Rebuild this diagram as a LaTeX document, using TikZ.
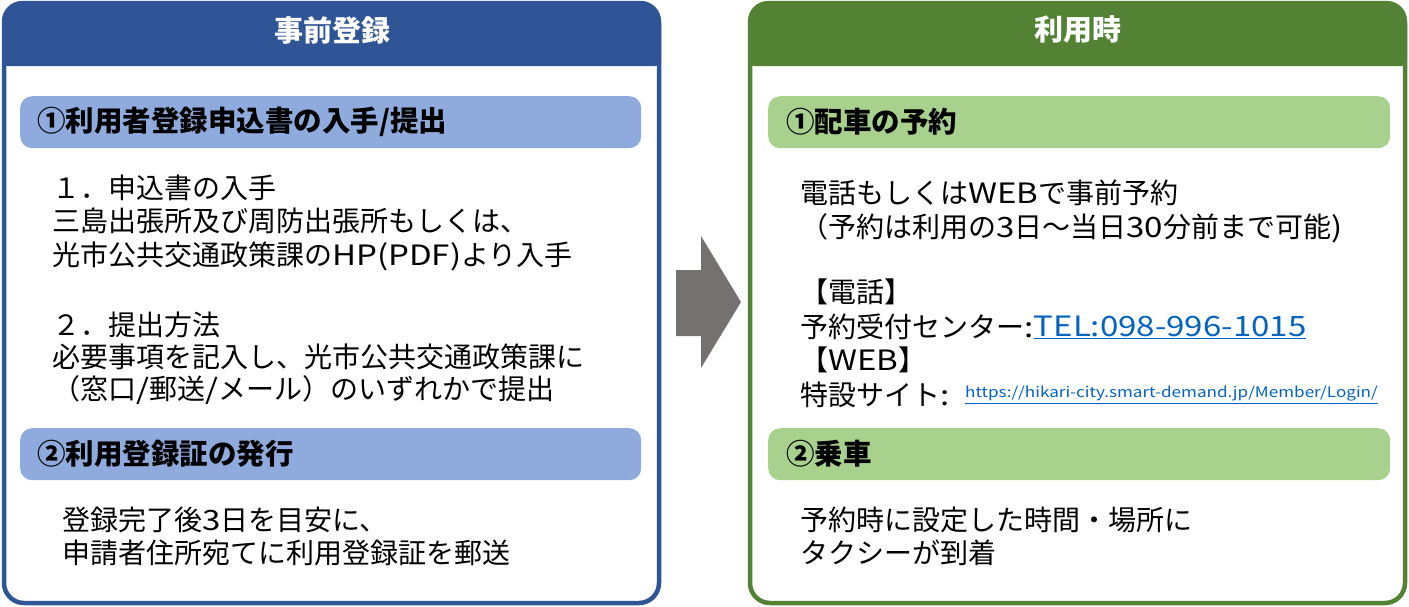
\documentclass[tikz,border=0pt]{standalone}
\usepackage{fontspec}
\setmainfont{Noto Sans CJK JP}
\newfontfamily\latw{Noto Sans CJK JP}[FakeStretch=1.18]
\newcommand\lw[1]{{\latw #1}}
\definecolor{blueD}{HTML}{2F5597}
\definecolor{blueL}{HTML}{8FAADC}
\definecolor{greenD}{HTML}{548235}
\definecolor{greenL}{HTML}{A9D18E}
\definecolor{arrowgray}{HTML}{767171}
\definecolor{linkblue}{HTML}{0563C1}
\begin{document}
\begin{tikzpicture}[x=1pt,y=-1pt,
  panel/.style={line width=4.5pt, rounded corners=20pt, fill=white},
  hdrtext/.style={inner sep=0pt, text=white, font=\fontsize{29}{33}\selectfont\bfseries},
  barbox/.style={rectangle, rounded corners=12pt, minimum width=621pt, minimum height=52pt, anchor=north west, inner sep=0pt},
  bartitle/.style={anchor=west, inner sep=0pt, font=\fontsize{28.5}{33}\selectfont\bfseries},
  body/.style={anchor=west, inner sep=0pt, font=\fontsize{28}{33}\selectfont},
  link/.style={anchor=west, inner sep=0pt, text=linkblue}
]
\useasboundingbox (0,0) rectangle (1409,606);

% ---------- left panel ----------
\draw[panel, draw=blueD] (4,3) rectangle (659,603);
\fill[blueD, rounded corners=20pt] (2,66) -- (2,1) -- (661,1) [rounded corners=6pt] -- (661,66) -- cycle;
\node[hdrtext] (lhdr) at (332,30) {事前登録};

\node[barbox, fill=blueL] (lbar1) at (20,96) {};
\node[bartitle] (lbar1t) at (37,122) {①利用者登録申込書の入手/提出};

\node[body] (l1) at (52,188) {１．申込書の入手};
\node[body] (l2) at (52,221) {三島出張所及び周防出張所もしくは、};
\node[body] (l3) at (52,256) {光市公共交通政策課の\lw{HP(PDF)}より入手};
\node[body] (l4) at (52,325) {２．提出方法};
\node[body] (l5) at (52,357) {必要事項を記入し、光市公共交通政策課に};
\node[body] (l6) at (52,390) {（窓口\lw{/}郵送\lw{/}メール）のいずれかで提出};

\node[barbox, fill=blueL] (lbar2) at (20,428) {};
\node[bartitle] (lbar2t) at (37,454) {②利用登録証の発行};

\node[body] (l7) at (62,520) {登録完了後\lw{3}日を目安に、};
\node[body] (l8) at (62,553) {申請者住所宛てに利用登録証を郵送};

% ---------- arrow ----------
\fill[arrowgray] (676,270) -- (701,270) -- (701,236) -- (741,302) -- (701,368) -- (701,336) -- (676,336) -- cycle;

% ---------- right panel ----------
\draw[panel, draw=greenD] (750,3) rectangle (1405,603);
\fill[greenD, rounded corners=20pt] (748,66) -- (748,1) -- (1407,1) [rounded corners=6pt] -- (1407,66) -- cycle;
\node[hdrtext] (rhdr) at (1078,30) {利用時};

\node[barbox, fill=greenL, minimum width=622pt] (rbar1) at (768,96) {};
\node[bartitle] (rbar1t) at (786,122) {①配車の予約};

\node[body] (r1) at (800,193) {電話もしくは\lw{WEB}で事前予約};
\node[body] (r2) at (800,228) {（予約は利用の\lw{3}日～当日\lw{30}分前まで可能\lw{)}};
\node[body] (r3) at (800,292) {【電話】};
\node[body] (r4) at (800,327) {予約受付センター\lw{:}};
\node[link, font=\fontsize{28}{33}\selectfont\latw] (tel) at (r4.east) {\underline{TEL:098-996-1015}};
\node[body] (r5) at (800,360) {【\lw{WEB}】};
\node[body] (r6) at (800,395) {特設サイト\lw{:}};
\node[link, font=\fontsize{14.5}{17}\selectfont\latw] (url) at (965,395) {\underline{https://hikari-city.smart-demand.jp/Member/Login/}};

\node[barbox, fill=greenL, minimum width=622pt] (rbar2) at (768,428) {};
\node[bartitle] (rbar2t) at (786,454) {②乗車};

\node[body] (r7) at (800,520) {予約時に設定した時間・場所に};
\node[body] (r8) at (800,553) {タクシーが到着};
\end{tikzpicture}
\end{document}
